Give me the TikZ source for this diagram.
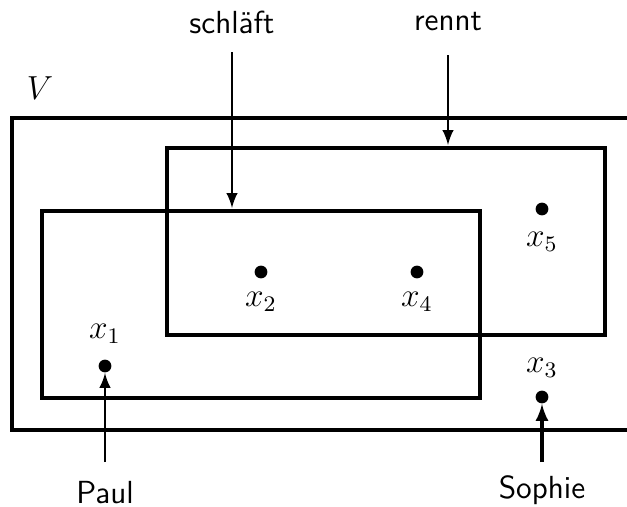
\documentclass[tikz,border=0pt]{standalone}
\usetikzlibrary{positioning}

\begin{document}
\begin{tikzpicture}
[x=0.36pt,y=-0.36pt,%
  every node/.style={font=\fontsize{11.5}{14}\selectfont},
  setDecorate/.style={line width=1.1pt},
  arrowDecorate/.style={-latex,line width=0.85pt},
  pointDecorate/.style={shape=circle,fill,inner sep=0pt,minimum size=4.6pt},
  wordDecorate/.style={font=\fontsize{11.5}{14}\selectfont\sffamily}]
\useasboundingbox (0,0) rectangle (627,507);
%% sets
\draw[setDecorate] (640,118) -- (12,118) -- (12,430) -- (640,430);
\draw[setDecorate] (167,148) rectangle (605,335);
\draw[setDecorate] (42,211) rectangle (480,398);
\node (V) at (40,88) {$V$};
%% elements
\foreach \nodename/\x/\y/\lx/\ly in {
  1/105/366/105/334,
  2/261/272/261/302,
  3/542/397/542/368,
  4/417/272/417/302,
  5/542/209/542/242}
{
  \node (x\nodename) at (\x,\y) [pointDecorate] {};
  \node (lx\nodename) at (\lx,\ly) {$x_{\nodename}$};
}
%% predicates and names
\node (schlaeft) at (232,22) [wordDecorate] {schläft};
\node (rennt) at (448,22) [wordDecorate] {rennt};
\node (Paul) at (105,493) [wordDecorate] {Paul};
\node (Sophie) at (542,490) [wordDecorate] {Sophie};
\coordinate (schlaeftEnd) at (232,208);
\coordinate (renntEnd) at (448,145);
\draw[arrowDecorate] (schlaeft) ++(0,30) -- (schlaeftEnd);
\draw[arrowDecorate] (rennt) ++(0,33) -- (renntEnd);
\draw[arrowDecorate] (Paul) ++(0,-31) -- (x1);
\draw[arrowDecorate,line width=1.1pt] (Sophie) ++(0,-28) -- (x3);
\end{tikzpicture}
\end{document}
